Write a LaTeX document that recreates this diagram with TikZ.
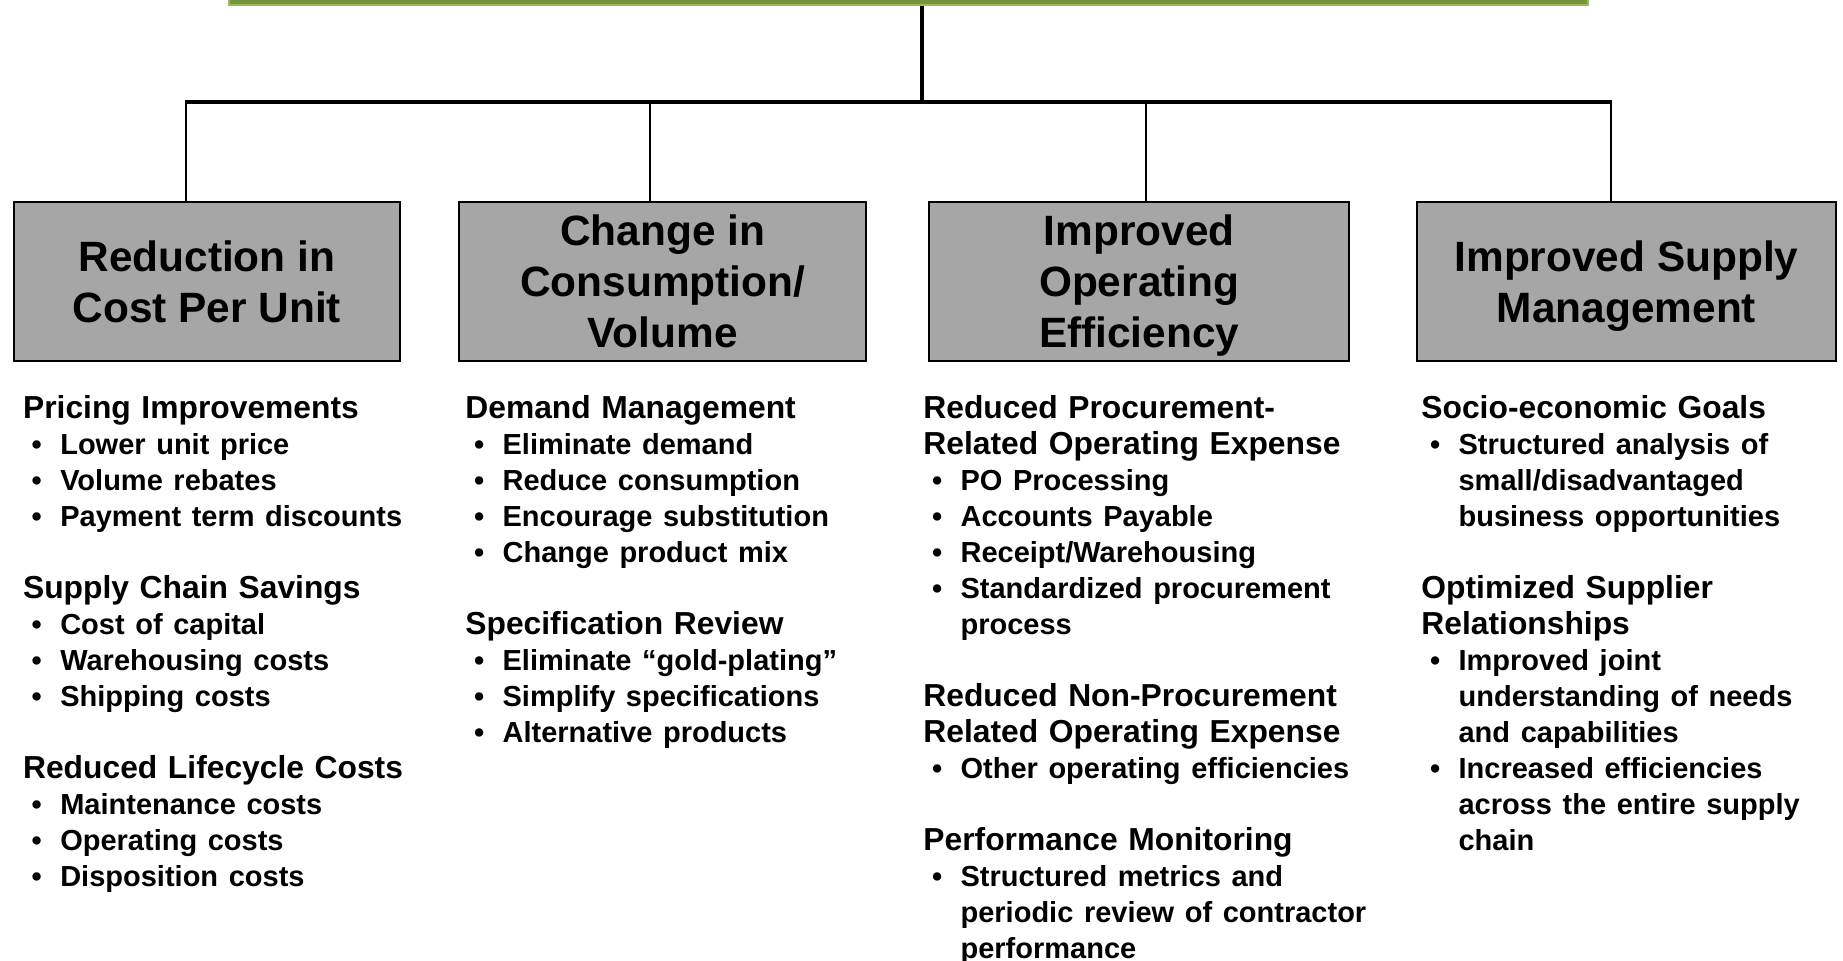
\documentclass[tikz,border=0pt]{standalone}
\usepackage{fontspec}
\setmainfont{Liberation Sans}

\definecolor{goalgreen}{HTML}{77933C}
\definecolor{goalrim}{HTML}{9BBB59}
\definecolor{catgray}{HTML}{A6A6A6}

\newcommand{\grphead}[1]{\par\noindent#1\par}
\newcommand{\grpitem}[1]{\par\noindent{\fontsize{14.5pt}{18pt}\selectfont
    \hangindent=18.6pt\hangafter=1\makebox[18.6pt][l]{\hspace{4.3pt}\textbullet}#1\par}}
\newcommand{\grpgap}{\par\vskip18pt}

\begin{document}
\begin{tikzpicture}[x=0.5pt, y=-0.5pt,
    catbox/.style={draw, line width=1pt, fill=catgray, minimum height=79.35pt,
        inner sep=0pt, align=center, text depth=0pt,
        font=\fontsize{21.2pt}{25.6pt}\selectfont\bfseries},
    notes/.style={anchor=north west, inner sep=0pt, text width=250pt,
        font=\fontsize{15.9pt}{18pt}\selectfont\bfseries},
    branch/.style={line width=1.2pt},
    spine/.style={line width=2pt}]

    \useasboundingbox (0,0) rectangle (1843,960);
    \clip (0,0) rectangle (1843,960);

    % goal bar, cut off at the top
    \node[draw=goalrim, fill=goalgreen, line width=0.7pt, minimum width=679.65pt,
        minimum height=17.4pt, inner sep=0pt] (goal) at (908.5,-12.4) {};

    \coordinate (stem) at (921.7,102);
    \coordinate (barL) at (185,102);
    \coordinate (barR) at (1611.5,102);
    \draw[spine] (goal.south -| stem) -- (stem);
    \draw[spine] (barL) -- (barR);

    % categories
    \node[catbox, minimum width=193.15pt] (b1) at (206.85,281.35) {Reduction in\\Cost Per Unit};
    \node[catbox, minimum width=203.45pt] (b2) at (662.75,281.35) {Change in\\Consumption/\\Volume};
    \node[catbox, minimum width=209.85pt] (b3) at (1139.15,281.35) {Improved\\Operating\\Efficiency};
    \node[catbox, minimum width=209.8pt] (b4) at (1626.5,281.35) {Improved Supply\\Management};

    \foreach \x [count=\i] in {185.7,650,1146,1610.7}
        \coordinate (d\i) at (\x,102);
    \foreach \i in {1,...,4}
        \draw[branch] (d\i) -- (d\i |- b\i.north);

    % lists
    \node[notes] (c1) at (22.7,382.2) {%
        \grphead{Pricing Improvements}
        \grpitem{Lower unit price}
        \grpitem{Volume rebates}
        \grpitem{Payment term discounts}
        \grpgap
        \grphead{Supply Chain Savings}
        \grpitem{Cost of capital}
        \grpitem{Warehousing costs}
        \grpitem{Shipping costs}
        \grpgap
        \grphead{Reduced Lifecycle Costs}
        \grpitem{Maintenance costs}
        \grpitem{Operating costs}
        \grpitem{Disposition costs}};

    \node[notes] (c2) at (465,382.2) {%
        \grphead{Demand Management}
        \grpitem{Eliminate demand}
        \grpitem{Reduce consumption}
        \grpitem{Encourage substitution}
        \grpitem{Change product mix}
        \grpgap
        \grphead{Specification Review}
        \grpitem{Eliminate “gold-plating”}
        \grpitem{Simplify specifications}
        \grpitem{Alternative products}};

    \node[notes] (c3) at (923,382.2) {%
        \grphead{Reduced Procurement-\newline Related Operating Expense}
        \grpitem{PO Processing}
        \grpitem{Accounts Payable}
        \grpitem{Receipt/Warehousing}
        \grpitem{Standardized procurement\newline process}
        \grpgap
        \grphead{Reduced Non-Procurement\newline Related Operating Expense}
        \grpitem{Other operating efficiencies}
        \grpgap
        \grphead{Performance Monitoring}
        \grpitem{Structured metrics and\newline periodic review of contractor\newline performance}};

    \node[notes] (c4) at (1421,382.2) {%
        \grphead{Socio-economic Goals}
        \grpitem{Structured analysis of\newline small/disadvantaged\newline business opportunities}
        \grpgap
        \grphead{Optimized Supplier\newline Relationships}
        \grpitem{Improved joint\newline understanding of needs\newline and capabilities}
        \grpitem{Increased efficiencies\newline across the entire supply\newline chain}};

\end{tikzpicture}
\end{document}
